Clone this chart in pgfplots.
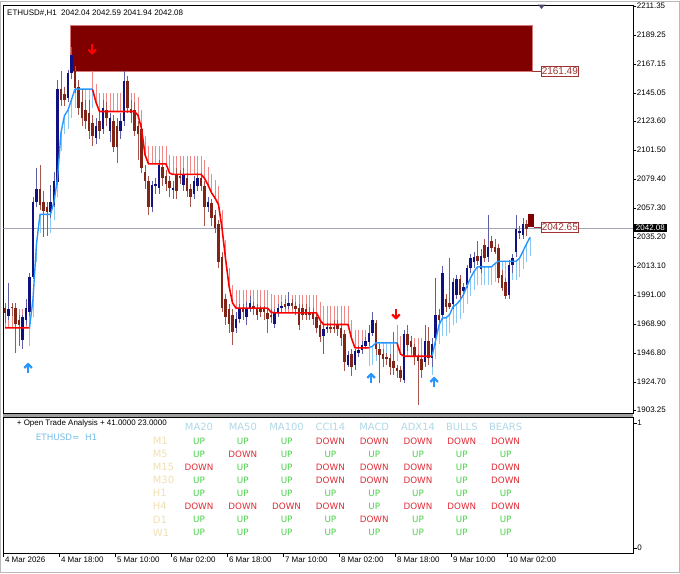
\documentclass[border=0pt]{standalone}
\usepackage{pgfplots}
\pgfplotsset{compat=1.18}
\usepackage{pgfplotstable}
\usepackage{fontspec}
\setmainfont{Liberation Sans}
\newfontfamily\dvs{DejaVu Sans}

\definecolor{bullc}{RGB}{16,16,128}
\definecolor{bullw}{RGB}{95,95,165}
\definecolor{bearc}{RGB}{128,36,24}
\definecolor{bearw}{RGB}{165,85,75}
\definecolor{stred}{RGB}{255,0,0}
\definecolor{stredh}{RGB}{240,135,135}
\definecolor{stblue}{RGB}{40,150,255}
\definecolor{stblueh}{RGB}{140,200,245}
\definecolor{zone}{RGB}{128,0,0}
\definecolor{zonee}{RGB}{215,120,120}
\definecolor{lbl}{RGB}{160,50,50}
\definecolor{pline}{RGB}{165,165,185}
\definecolor{hdr}{RGB}{176,216,232}
\definecolor{tf}{RGB}{240,224,180}
\definecolor{upc}{RGB}{70,210,70}
\definecolor{dnc}{RGB}{225,45,55}
\definecolor{symc}{RGB}{120,190,230}

\pgfdeclareplotmark{arrup}{%
  \pgfsetlinewidth{2.2bp}\pgfsetroundjoin\pgfsetbuttcap
  \pgfpathmoveto{\pgfpoint{0bp}{-5bp}}\pgfpathlineto{\pgfpoint{0bp}{4bp}}
  \pgfusepathqstroke
  \pgfpathmoveto{\pgfpoint{-3.8bp}{0.2bp}}\pgfpathlineto{\pgfpoint{0bp}{4.2bp}}\pgfpathlineto{\pgfpoint{3.8bp}{0.2bp}}
  \pgfusepathqstroke}
\pgfdeclareplotmark{arrdn}{%
  \pgfsetlinewidth{2.2bp}\pgfsetroundjoin\pgfsetbuttcap
  \pgfpathmoveto{\pgfpoint{0bp}{5bp}}\pgfpathlineto{\pgfpoint{0bp}{-4bp}}
  \pgfusepathqstroke
  \pgfpathmoveto{\pgfpoint{-3.8bp}{-0.2bp}}\pgfpathlineto{\pgfpoint{0bp}{-4.2bp}}\pgfpathlineto{\pgfpoint{3.8bp}{-0.2bp}}
  \pgfusepathqstroke}

\pgfplotsset{
  bar/.style 2 args={draw=none, mark=none, forget plot,
    error bars/.cd, y dir=minus, y explicit, error mark=none,
    error bar style={draw=#1, line width=#2}},
  hatch/.style n args={3}{draw=none, mark=none, forget plot,
    error bars/.cd, y dir=#1, y fixed=14, error mark=none,
    error bar style={draw=#2, line width=#3}},
}

% H1 candles, i = bar index
\pgfplotstableread{
i o h l c
1 1975 2000 1972 1980
5 1957 1976 1950 1974
6 1972 1988 1968 1981
7 1978 2008 1975 2005
8 2005 2066 2003 2062
9 2062 2088 2058 2072
13 2054 2075 2050 2062
14 2060 2085 2058 2078
15 2077 2155 2075 2148
18 2141 2163 2138 2160
19 2160 2180 2156 2174
26 2111 2126 2106 2120
28 2118 2140 2114 2134
30 2116 2130 2108 2126
33 2116 2130 2110 2124
34 2124 2162 2120 2154
42 2058 2078 2054 2075
43 2074 2080 2068 2076
44 2073 2094 2068 2090
48 2071 2078 2064 2073
51 2075 2088 2070 2083
54 2068 2082 2064 2078
55 2074 2084 2070 2080
58 2058 2066 2054 2062
66 1966 1978 1962 1973
67 1973 1984 1970 1981
69 1974 1986 1968 1981
70 1981 1990 1978 1985
77 1969 1980 1966 1977
78 1977 1984 1974 1981
79 1981 1986 1978 1983
81 1983 1993 1980 1985
91 1960 1968 1946 1965
92 1965 1970 1962 1967
98 1938 1948 1936 1945
100 1938 1950 1934 1948
101 1947 1952 1944 1949
102 1949 1956 1946 1953
103 1952 1959 1950 1956
104 1955 1968 1952 1962
105 1962 1978 1960 1972
114 1926 1964 1924 1961
120 1940 1968 1936 1956
122 1943 1958 1936 1954
123 1958 2004 1953 1976
125 1976 2013 1972 2008
128 1984 2004 1980 2001
129 1991 2006 1988 2003
131 1994 2000 1990 1997
132 1999 2014 1996 2012
133 2012 2022 2008 2019
134 2016 2024 2012 2020
136 2011 2026 2008 2021
138 2020 2052 2016 2028
144 1991 2018 1988 2014
145 2014 2022 2008 2019
146 2024 2052 2020 2041
147 2038 2044 2034 2040
148 2037 2050 2034 2045
}\bull

\pgfplotstableread{
i o h l c
0 1981 1985 1970 1977
2 1982 1985 1975 1981
3 1981 1985 1947 1969
4 1972 1976 1952 1968
10 2072 2090 2056 2060
11 2062 2070 2035 2055
12 2058 2062 2036 2054
16 2148 2162 2135 2140
17 2144 2150 2135 2140
20 2162 2166 2145 2149
21 2150 2155 2128 2134
22 2138 2148 2120 2126
23 2132 2140 2118 2124
24 2130 2140 2110 2116
25 2122 2128 2105 2112
27 2124 2132 2110 2116
29 2132 2138 2120 2126
31 2124 2128 2100 2104
32 2120 2126 2092 2104
35 2154 2158 2130 2134
36 2133 2140 2122 2130
37 2132 2138 2112 2116
38 2120 2124 2094 2114
39 2118 2122 2084 2088
40 2085 2090 2072 2078
41 2078 2082 2052 2058
45 2089 2092 2074 2080
46 2082 2086 2070 2076
47 2078 2082 2066 2073
49 2083 2088 2064 2070
50 2082 2086 2076 2080
52 2080 2084 2066 2070
53 2072 2076 2058 2066
56 2080 2084 2070 2074
57 2074 2078 2044 2058
59 2061 2064 2044 2050
60 2052 2056 2038 2042
61 2045 2048 2012 2016
62 2020 2024 1978 1981
63 1988 1992 1968 1974
64 1980 1984 1962 1969
65 1976 1980 1953 1963
68 1980 1984 1972 1978
71 1983 1986 1976 1981
72 1981 1984 1972 1976
73 1980 1983 1974 1978
74 1980 1983 1972 1978
75 1977 1980 1962 1973
76 1976 1980 1970 1974
80 1984 1988 1980 1982
82 1985 1988 1980 1983
83 1983 1986 1976 1980
84 1981 1984 1964 1968
85 1981 1984 1972 1976
86 1980 1984 1972 1976
87 1978 1982 1972 1976
88 1978 1981 1968 1973
89 1974 1977 1962 1966
90 1968 1971 1955 1959
93 1967 1970 1962 1965
94 1967 1972 1962 1965
95 1968 1972 1960 1965
96 1966 1970 1952 1958
97 1961 1964 1933 1940
99 1946 1950 1929 1936
106 1970 1972 1945 1950
107 1950 1954 1924 1945
108 1946 1950 1936 1942
109 1944 1947 1938 1942
110 1943 1946 1930 1936
111 1941 1963 1930 1935
112 1935 1938 1928 1933
113 1934 1937 1925 1928
115 1961 1968 1948 1953
116 1956 1960 1946 1951
117 1951 1954 1938 1944
118 1944 1946 1907 1941
119 1942 1945 1928 1934
121 1956 1967 1938 1943
124 1976 1980 1968 1972
126 1988 1992 1978 1982
127 1985 2019 1980 1982
130 2003 2006 1988 1991
135 2021 2032 2014 2017
137 2029 2034 2016 2019
139 2032 2036 2024 2027
140 2028 2034 2022 2024
141 2027 2030 2000 2004
142 2006 2010 1994 1996
143 2001 2004 1988 1990
149 2045 2048 2036 2041
}\bear

% trend stop lines (down = red, up = blue)
\pgfplotstableread{
i v
0 1966
1 1966
2 1966
3 1966
4 1966
5 1966
6 1966
7 1966
nan nan
25 2148
26 2138
27 2131
28 2131
29 2131
30 2131
31 2131
32 2131
33 2131
34 2131
35 2131
36 2131
37 2131
38 2128
39 2118
40 2098
41 2091
42 2091
43 2091
44 2091
45 2091
46 2091
47 2084
48 2083
49 2083
50 2083
51 2083
52 2083
53 2083
54 2083
55 2083
56 2083
57 2080
58 2075
59 2069
60 2065
61 2060
62 2042
63 2019
64 1998
65 1985
66 1981
67 1981
68 1981
69 1981
70 1981
71 1981
72 1981
73 1981
74 1981
75 1981
76 1978
77 1977.4
78 1977.4
79 1977.4
80 1977.4
81 1977.4
82 1977.4
83 1977.4
84 1977.4
85 1977.4
86 1977.4
87 1977.4
88 1977.4
89 1977.4
90 1972
91 1968.5
92 1968.5
93 1968.5
94 1968.5
95 1968.5
96 1968.5
97 1968.5
98 1968.5
99 1958
100 1950.7
101 1950.7
102 1950.7
103 1950.7
104 1950.7
nan nan
112 1954.5
113 1946
114 1944.3
115 1944.3
116 1944.3
117 1944.3
118 1944.3
119 1944.3
120 1944.3
121 1944.3
122 1944.3
}\redst

\pgfplotstableread{
i v
7 1966
8 1988
9 2030
10 2052.5
11 2052.5
12 2052.5
13 2052.5
14 2062
15 2080
16 2115
17 2128
18 2132
19 2140
20 2148
21 2148
22 2148
23 2148
24 2148
25 2148
nan nan
104 1950.7
105 1952
106 1954.5
107 1954.5
108 1954.5
109 1954.5
110 1954.5
111 1954.5
112 1954.5
nan nan
122 1944.3
123 1956
124 1968
125 1973.6
126 1973.6
127 1976
128 1982
129 1984
130 1987
131 1991.4
132 1998
133 2004
134 2009
135 2012.5
136 2012.5
137 2012.5
138 2012.5
139 2012.5
140 2015
141 2016.8
142 2016.8
143 2016.8
144 2016.8
145 2016.8
146 2016.8
147 2019
148 2024.5
149 2030
150 2035
}\bluest

\begin{document}
\begin{tikzpicture}
\begin{scope}[x=1bp, y=1bp]
\path[use as bounding box] (0,0) rectangle (680,572);
\fill[white] (0,0) rectangle (680,572);
\draw[gray!55, line width=1.2bp] (0.6,0.6) rectangle (679.4,571.4);
\fill[gray!75] (3.25,156) rectangle (633.25,160);
\end{scope}

\begin{axis}[
  at={(3.25bp,160bp)}, anchor=south west,
  width=630bp, height=408bp, scale only axis,
  xmin=-0.5, xmax=179.5, ymin=1900.9, ymax=2212.1,
  axis line style={black, line width=0.8bp},
  unbounded coords=jump,
  xtick=\empty,
  ytick={2211.35,2189.25,2167.15,2145.05,2123.60,2101.50,2079.40,2057.30,2035.20,2013.10,1991.00,1968.90,1946.80,1924.70,1903.25},
  yticklabels={2211.35,2189.25,2167.15,2145.05,2123.60,2101.50,2079.40,2057.30,2035.20,2013.10,1991.00,1968.90,1946.80,1924.70,1903.25},
  ytick pos=right, yticklabel pos=right,
  tick align=outside, major tick length=3bp,
  ytick style={black, line width=0.6bp},
  yticklabel style={font=\fontsize{8}{9}\selectfont, anchor=west, inner xsep=0.5bp},
]
% supply zone
\addplot[fill=zone, draw=zonee, line width=0.6bp] coordinates
  {(18.6,2161.49) (150.6,2161.49) (150.6,2196.9) (18.6,2196.9)} -- cycle;
% current price line
\addplot[pline, line width=0.8bp] coordinates {(-0.5,2042.08) (179.5,2042.08)};
% stop hatches
\addplot[hatch={plus}{stredh}{0.9bp}] table[x=i, y=v] {\redst};
\addplot[hatch={minus}{stblueh}{0.9bp}] table[x=i, y=v] {\bluest};
% wicks
\addplot[bar={bullw}{1bp}] table[x=i, y=h, y error minus expr=\thisrow{h}-\thisrow{l}] {\bull};
\addplot[bar={bearw}{1bp}] table[x=i, y=h, y error minus expr=\thisrow{h}-\thisrow{l}] {\bear};
% bodies
\addplot[bar={bullc}{2.7bp}] table[x=i, y=c, y error minus expr=\thisrow{c}-\thisrow{o}] {\bull};
\addplot[bar={bearc}{2.7bp}] table[x=i, y=o, y error minus expr=\thisrow{o}-\thisrow{c}] {\bear};
% last bar block
\addplot[bar={zone}{6.5bp}] coordinates {(150.3,2052.5) -= (0,9.8)};
% stop lines
\addplot[stred, line width=1.6bp, line join=round] table[x=i, y=v] {\redst};
\addplot[stblue, line width=1.4bp, line join=round] table[x=i, y=v] {\bluest};
% signal arrows
\addplot[only marks, mark=arrup, color=stblue] coordinates
  {(6.6,1935.2) (104.6,1927.6) (122.6,1924.5)};
\addplot[only marks, mark=arrdn, color=stred] coordinates
  {(24.9,2178.5) (111.7,1976.4)};
% price tags
\addplot[lbl, line width=0.8bp] coordinates {(150.6,2161.49) (153.2,2161.49)};
\addplot[lbl, line width=0.8bp] coordinates {(151.2,2042.65) (153.2,2042.65)};
\node[draw=lbl, text=lbl, fill=white, anchor=west, inner xsep=0.6bp, inner ysep=1.2bp,
  line width=0.7bp, font=\fontsize{10}{11}\selectfont] at (axis cs:153.1,2161.49) {2161.49};
\node[draw=lbl, text=lbl, fill=white, anchor=west, inner xsep=0.6bp, inner ysep=1.2bp,
  line width=0.7bp, font=\fontsize{10}{11}\selectfont] at (axis cs:153.1,2042.65) {2042.65};
\coordinate (cp) at (axis cs:179.5,2042.08);
\end{axis}

\node[fill=black, text=white, anchor=west, inner xsep=2.5bp, inner ysep=1.4bp,
  font=\fontsize{8}{9}\selectfont] at (cp) {2042.08};
\begin{scope}[x=1bp, y=1bp]
\fill[gray!80!blue!70!black] (538,568.6) -- (545,568.6) -- (541.5,564.2) -- cycle;
\node[anchor=west, inner sep=0pt, font=\fontsize{8}{9}\selectfont] at (7,560.3)
  {ETHUSD\#,H1\ \ 2042.04 2042.59 2041.94 2042.08};
\end{scope}

\begin{axis}[
  at={(3.25bp,20bp)}, anchor=south west,
  width=630bp, height=136bp, scale only axis,
  xmin=-0.5, xmax=179.5, ymin=-0.0424, ymax=1.0456,
  axis line style={black, line width=0.8bp},
  xtick={-0.5,15.5,31.5,47.5,63.5,79.5,95.5,111.5,127.5,143.5},
  xticklabels={4 Mar 2026,4 Mar 18:00,5 Mar 10:00,6 Mar 02:00,6 Mar 18:00,7 Mar 10:00,8 Mar 02:00,8 Mar 18:00,9 Mar 10:00,10 Mar 02:00},
  xtick pos=bottom, ytick pos=right, yticklabel pos=right,
  ytick={0,1}, yticklabels={0,1},
  tick align=outside, major tick length=3.5bp,
  tick style={black, line width=0.6bp},
  xticklabel style={font=\fontsize{8}{9}\selectfont, anchor=north west, inner xsep=0.4bp, xshift=1.2bp, yshift=3bp},
  yticklabel style={font=\fontsize{8}{9}\selectfont, anchor=west, inner xsep=0.5bp},
]
\end{axis}

% trend table panel
\begin{scope}[x=1bp, y=1bp]
\node[anchor=west, inner sep=0pt, font=\fontsize{8}{9}\selectfont] at (16.7,149.3)
  {+ Open Trade Analysis + 41.0000 23.0000};
\node[anchor=west, inner sep=0pt, text=symc, font=\dvs\fontsize{8.8}{10}\selectfont] at (35.7,136)
  {ETHUSD=\ \ H1};
\foreach \h [count=\k from 0] in {MA20,MA50,MA100,CCI14,MACD,ADX14,BULLS,BEARS}
  \node[text=hdr, inner sep=0pt, font=\dvs\fontsize{10}{11}\selectfont] at ({199+43.8*\k},146.3) {\h};
\foreach \lab/\py/\vals in {
  M1/440/{1,1,1,0,0,0,0,0},
  M5/452.8/{1,0,1,1,1,1,1,1},
  M15/466/{0,1,1,0,0,0,1,0},
  M30/479.2/{1,1,1,0,0,0,1,0},
  H1/492/{1,1,1,1,1,1,1,1},
  H4/505/{0,0,0,0,1,0,0,0},
  D1/518.3/{1,1,1,1,0,1,1,1},
  W1/531.6/{1,1,1,1,1,1,1,1}} {
  \pgfmathsetmacro\yy{572-\py}
  \node[anchor=west, text=tf, inner sep=0pt, font=\dvs\fontsize{10}{11}\selectfont] at (152.7,\yy) {\lab};
  \foreach \v [count=\k from 0] in \vals {
    \pgfmathsetmacro\xx{199+43.8*\k}
    \ifnum\v=1
      \node[text=upc, inner sep=0pt, font=\dvs\fontsize{8.8}{10}\selectfont] at (\xx,\yy) {UP};
    \else
      \node[text=dnc, inner sep=0pt, font=\dvs\fontsize{8.8}{10}\selectfont] at (\xx,\yy) {DOWN};
    \fi
  }
}
\end{scope}
\end{tikzpicture}
\end{document}
